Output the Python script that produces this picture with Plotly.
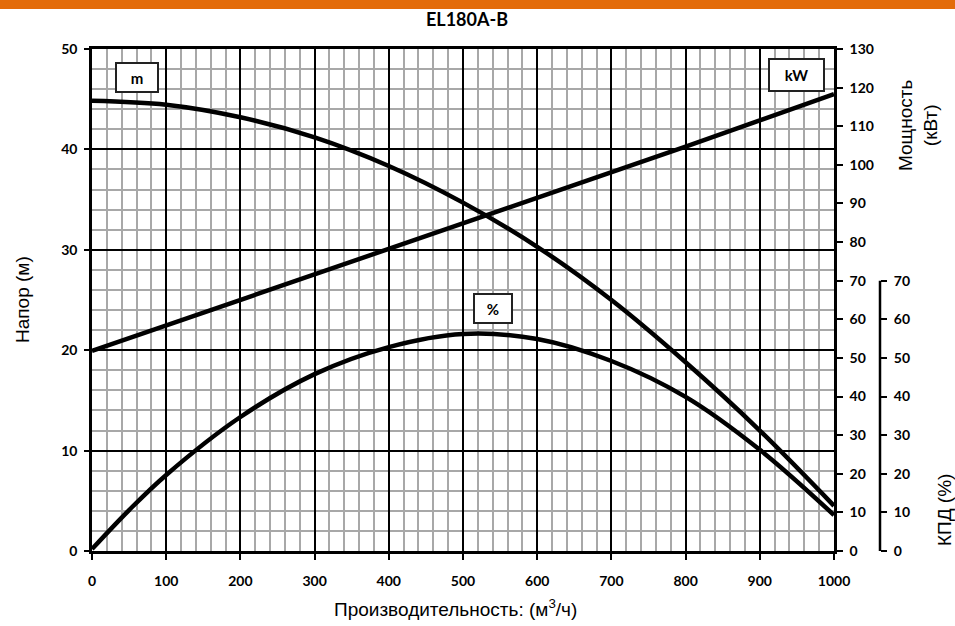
import plotly.graph_objects as go

# ---- data ----
flow_head = [0, 100, 200, 300, 400, 500, 600, 700, 800, 900, 1000]
head_m = [44.85, 44.45, 43.2, 41.2, 38.35, 34.7, 30.3, 25.0, 18.8, 12.0, 4.5]

flow_power = [0, 100, 200, 300, 400, 500, 600, 700, 800, 900, 1000]
power_kw = [51.8, 58.4, 65.0, 71.6, 78.2, 84.9, 91.4, 98.0, 104.7, 111.5, 118.3]

flow_eff = [0, 50, 100, 200, 300, 400, 500, 600, 700, 800, 900, 1000]
eff_pct = [0.5, 10.6, 19.7, 34.7, 45.8, 52.8, 56.2, 54.9, 49.2, 39.9, 26.2, 9.3]

x_ticks = [0, 100, 200, 300, 400, 500, 600, 700, 800, 900, 1000]
head_ticks = [0, 10, 20, 30, 40, 50]
power_ticks = list(range(0, 131, 10))
eff_ticks = list(range(0, 71, 10))

title_text = "EL180A-B"
x_title = "Производительность: (м<sup>3</sup>/ч)"
y_title = "Напор (м)"
power_title = "Мощность<br>(кВт)"
eff_title = "КПД (%)"

TICKFONT = dict(family="Lato, Open Sans, sans-serif", size=14, color="black", weight="bold")
AXFONT = dict(family="Liberation Sans, Arial, sans-serif", size=19, color="black")

fig = go.Figure()
line = dict(color="black", width=4.5)
fig.add_trace(go.Scatter(x=flow_head, y=head_m, mode="lines", line=dict(**line, shape="spline", smoothing=1.0),
                         xaxis="x", yaxis="y", showlegend=False, hoverinfo="skip"))
fig.add_trace(go.Scatter(x=flow_power, y=power_kw, mode="lines", line=dict(**line),
                         xaxis="x", yaxis="y2", showlegend=False, hoverinfo="skip"))
fig.add_trace(go.Scatter(x=flow_eff, y=eff_pct, mode="lines", line=dict(**line, shape="spline", smoothing=1.0),
                         xaxis="x", yaxis="y3", showlegend=False, hoverinfo="skip"))

L, R, T, B = 92, 75, 49, 75
W, H = 955, 626
pw = W - L - R
ph = H - T - B
xdom_end = (834 - L) / pw

common = dict(automargin=False, fixedrange=True, zeroline=False, tickfont=TICKFONT,
              ticks="outside", tickwidth=2, tickcolor="black")

fig.update_layout(
    width=W, height=H,
    margin=dict(l=L, r=R, t=T, b=B, pad=0, autoexpand=False),
    paper_bgcolor="white", plot_bgcolor="white",
    title=dict(text=title_text, x=467 / W, xanchor="center", y=1 - 20 / H, yanchor="middle",
               font=dict(family="Lato, Open Sans, sans-serif", size=18, color="black", weight="bold")),
    xaxis=dict(domain=[0, xdom_end], range=[0, 1000], tickvals=x_ticks, ticktext=[str(v) for v in x_ticks],
               showgrid=True, gridcolor="black", gridwidth=2,
               minor=dict(dtick=20, tick0=0, showgrid=True, gridcolor="#a8a8a8", gridwidth=1.5, ticks=""),
               showline=True, linecolor="black", linewidth=2.5, mirror=True,
               ticklen=6, ticklabelstandoff=9, anchor="y", **common),
    yaxis=dict(domain=[0, 1], range=[0, 50], tickvals=head_ticks, ticktext=[str(v) for v in head_ticks],
               showgrid=True, gridcolor="black", gridwidth=2,
               minor=dict(dtick=2, tick0=0, showgrid=True, gridcolor="#a8a8a8", gridwidth=1.5, ticks=""),
               showline=True, linecolor="black", linewidth=2.5, mirror=True,
               ticklen=5, ticklabelstandoff=4, anchor="x", **common),
    yaxis2=dict(overlaying="y", side="right", anchor="x", range=[0, 130], tickvals=power_ticks,
                ticktext=[str(v) for v in power_ticks], showgrid=False,
                showline=True, linecolor="black", linewidth=2.5,
                ticklen=6, ticklabelstandoff=4, **common),
    yaxis3=dict(overlaying="y", side="right", anchor="free", position=1.0, range=[0, 130],
                tickvals=eff_ticks, ticktext=[str(v) for v in eff_ticks], showgrid=False,
                showline=False, ticklen=6, ticklabelstandoff=4, **common),
)

# efficiency axis line (only spans 0..70)
fig.add_shape(type="line", xref="paper", yref="y3", x0=1.0, x1=1.0, y0=0, y1=70,
              line=dict(color="black", width=2.5), layer="above")

# orange header bar
fig.add_shape(type="rect", xref="paper", yref="paper",
              x0=-L / pw, x1=(W - L) / pw, y0=(H - B - 9) / ph, y1=(H - B) / ph,
              fillcolor="#E36C0A", line=dict(width=0), layer="above")

# curve labels (boxes)
box_font = dict(family="Lato, Open Sans, sans-serif", size=15, color="black", weight="bold")
for txt, xv, yv, w, h in [("m", 60.6, 47.2, 40, 27), ("kW", 949.5, 47.4, 53, 30), ("%", 540.4, 24.15, 36, 27)]:
    fig.add_annotation(x=xv, y=yv, xref="x", yref="y", text=txt, showarrow=False, font=box_font,
                       width=w, height=h, bgcolor="white", bordercolor="#222", borderwidth=2, borderpad=0,
                       align="center", valign="middle")

# axis titles
fig.add_annotation(x=(22 - L) / pw, y=(H - B - 300) / ph, xref="paper", yref="paper", text=y_title,
                   textangle=-90, showarrow=False, font=AXFONT, xanchor="center", yanchor="middle")
fig.add_annotation(x=(455 - L) / pw, y=(H - B - 608) / ph, xref="paper", yref="paper", text=x_title,
                   showarrow=False, font=AXFONT, xanchor="center", yanchor="middle")
fig.add_annotation(x=(918 - L) / pw, y=(H - B - 125) / ph, xref="paper", yref="paper", text=power_title,
                   textangle=-90, showarrow=False, font=AXFONT, xanchor="center", yanchor="middle")
fig.add_annotation(x=(944 - L) / pw, y=(H - B - 510) / ph, xref="paper", yref="paper", text=eff_title,
                   textangle=-90, showarrow=False, font=AXFONT, xanchor="center", yanchor="middle")

fig.write_html("out.html", config={"displayModeBar": False},
               post_script="document.body.style.margin='0';document.body.style.overflow='hidden';")
